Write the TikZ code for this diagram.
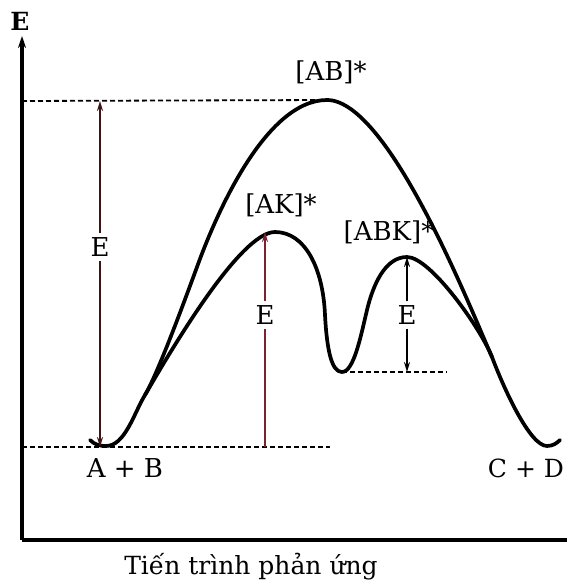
\documentclass[tikz,border=0pt]{standalone}
\usepackage{fontspec}
\setmainfont{DejaVu Serif}
\usetikzlibrary{arrows.meta}
\definecolor{brn}{RGB}{120,35,45}
\definecolor{dbrn}{RGB}{60,20,20}
\tikzset{
  curve/.style={line width=3.7pt, line cap=round, line join=round},
  axis/.style={line width=3.2pt},
  guide/.style={line width=1.8pt, dash pattern=on 5pt off 3pt},
  tip/.style={-{Stealth[length=10pt,width=6pt]}},
  lbl/.style={inner sep=0pt, font=\fontsize{26}{28}\selectfont},
  gap/.style={lbl, fill=white, inner sep=4pt}
}
\begin{document}
\begin{tikzpicture}[x=1pt,y=-1pt]
\useasboundingbox (0,0) rectangle (569,581);
% axes
\coordinate (O) at (22,540);
\coordinate (Ytop) at (22,36);
\coordinate (Xend) at (567,540);
\draw[axis,-{Stealth[length=12pt,width=8pt]}] (O) -- (Ytop);
\draw[axis] (O) -- (Xend);
\node[inner sep=0pt, font=\fontsize{25}{27}\selectfont\bfseries] (Elab) at (20,21) {E};
\node[inner sep=0pt, anchor=base, font=\fontsize{25}{27}\selectfont] (xlab) at (251,574) {Tiến trình phản ứng};
% reference points
\coordinate (L0) at (22,447);
\coordinate (L1) at (330,447);
\coordinate (T0) at (22,101);
\coordinate (Tpk) at (327,100);
\coordinate (M0) at (342,372);
\coordinate (M1) at (447,372);
% guide lines
\draw[guide] (T0) -- (Tpk);
\draw[guide] (L0) -- (L1);
\draw[guide] (M0) -- (M1);
% curve key points
\coordinate (S) at (90,440);
\coordinate (Min1) at (106,446);
\coordinate (J) at (145,395);
\coordinate (AKp) at (275,232);
\coordinate (D1) at (325,315);
\coordinate (U1) at (367,310);
\coordinate (ABKp) at (407,257);
\coordinate (Jr) at (492,357);
\coordinate (Min2) at (547,446);
\coordinate (Eend) at (560,440);
\coordinate (B1) at (197,267);
% catalysed path
\draw[curve] (S) .. controls (95,445) and (100,446) .. (Min1)
  .. controls (125,446) and (134,413) .. (J)
  .. controls (170,352) and (240,232) .. (AKp)
  .. controls (305,232) and (323,268) .. (D1)
  .. controls (327,352) and (332,372) .. (M0)
  .. controls (354,372) and (361,335) .. (U1)
  .. controls (373,285) and (385,257) .. (ABKp)
  .. controls (430,257) and (480,327) .. (Jr)
  .. controls (504,389) and (530,446) .. (Min2)
  .. controls (553,446) and (557,443) .. (Eend);
% uncatalysed path
\draw[curve] (J) .. controls (158,373) and (183,305) .. (B1)
  .. controls (215,217) and (265,100) .. (Tpk)
  .. controls (390,100) and (475,320) .. (Jr);
% dimension arrows
\coordinate (a1) at (100,447); \coordinate (a2) at (100,101);
\node[gap] (E1) at (100,247) {E};
\draw[line width=1.8pt,draw=dbrn,tip] (E1.north) -- (a2);
\draw[line width=1.8pt,draw=dbrn,tip] (E1.south) -- (a1);
\coordinate (b1) at (265,447); \coordinate (b2) at (265,232);
\node[gap] (E2) at (265,315) {E};
\draw[line width=2pt,draw=brn] (b1) -- (E2.south);
\draw[line width=2pt,draw=brn,tip] (E2.north) -- (b2);
\coordinate (c1) at (407,372); \coordinate (c2) at (407,257);
\node[gap] (E3) at (407,315) {E};
\draw[line width=1.6pt,tip] (E3.south) -- (c1);
\draw[line width=1.6pt,tip] (E3.north) -- (c2);
% labels
\node[lbl] (AB) at (331,72) {[AB]*};
\node[lbl] (AK) at (281,205) {[AK]*};
\node[lbl] (ABK) at (389,232) {[ABK]*};
\node[lbl] (AplusB) at (125,468) {A + B};
\node[lbl, font=\fontsize{25}{27}\selectfont] (CplusD) at (526,468) {C + D};
\end{tikzpicture}
\end{document}
